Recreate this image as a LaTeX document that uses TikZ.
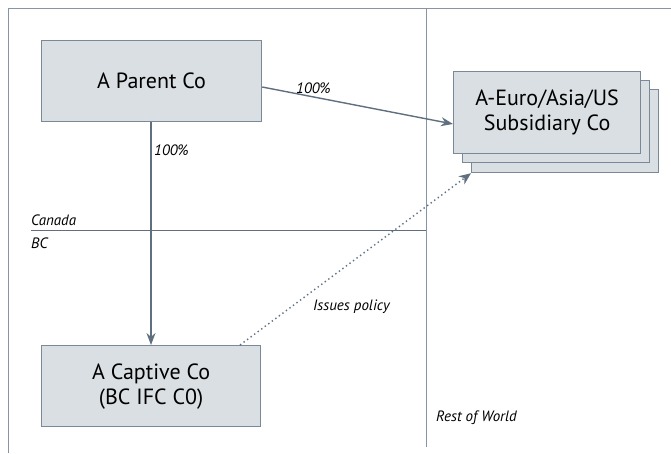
\documentclass[tikz,border=0pt]{standalone}
\usepackage{fontspec}
\setmainfont{PT Sans}
\usetikzlibrary{arrows.meta}
\definecolor{boxfill}{HTML}{D9DFE3}
\definecolor{boxline}{HTML}{7A8898}
\definecolor{arr}{HTML}{5F6F80}
\definecolor{frameline}{HTML}{8794A3}
\tikzset{
  cobox/.style={draw=boxline, fill=boxfill, line width=1.2pt, minimum width=#1, inner sep=0pt, align=center, font=\fontsize{22}{25}\selectfont, anchor=north west},
  lbl/.style={font=\fontsize{15}{17}\selectfont\itshape, inner sep=0pt},
  conn/.style={draw=arr, line width=1.4pt, -{Stealth[length=12pt,width=9pt]}},
  dconn/.style={draw=arr, line width=1.4pt, dash pattern=on 1.4pt off 3pt, -{Stealth[length=12pt,width=10pt]}},
  frm/.style={draw=frameline, line width=1pt}
}
\begin{document}
\begin{tikzpicture}[x=1pt,y=-1pt]
\useasboundingbox (0,0) rectangle (671,453);
% frame
\coordinate (tl) at (8,8);
\coordinate (tr) at (671,8);
\coordinate (bl) at (8,453);
\coordinate (dt) at (426,8);
\coordinate (db) at (426,447);
\coordinate (hl) at (31,230);
\coordinate (hr) at (426,230);
\draw[frm] (bl) -- (tl) -- (tr);
\draw[frm] (dt) -- (db);
\draw[draw=arr, line width=1pt] (hl) -- (hr);
% boxes
\node[cobox=220pt, minimum height=81pt] (parent) at (41,39.5) {A Parent Co};
\node[cobox=187pt, minimum height=83pt] (sub3) at (471,89) {};
\node[cobox=187pt, minimum height=82pt] (sub2) at (462,80) {};
\node[cobox=187pt, minimum height=82pt] (sub) at (453,71) {A-Euro/Asia/US\\Subsidiary Co};
\node[cobox=219pt, minimum height=81pt] (captive) at (41,345) {A Captive Co\\(BC IFC C0)};
% connectors
\draw[conn] (parent.east |- 0,87) -- (sub.west |- 0,124);
\draw[conn] (parent.south -| 151,0) -- (captive.north -| 151,0);
\draw[dconn] (captive.north -| 240,0) -- (sub3.south west);
% labels
\node[lbl, anchor=west] (p1) at (296,88) {100\%};
\node[lbl, anchor=west] (p2) at (154,150) {100\%};
\node[lbl, anchor=west] (can) at (31,220) {Canada};
\node[lbl, anchor=west] (bc) at (31,243) {BC};
\node[lbl, anchor=west] (iss) at (313,307) {Issues policy};
\node[lbl, anchor=west] (row) at (436,418) {Rest of World};
\end{tikzpicture}
\end{document}
